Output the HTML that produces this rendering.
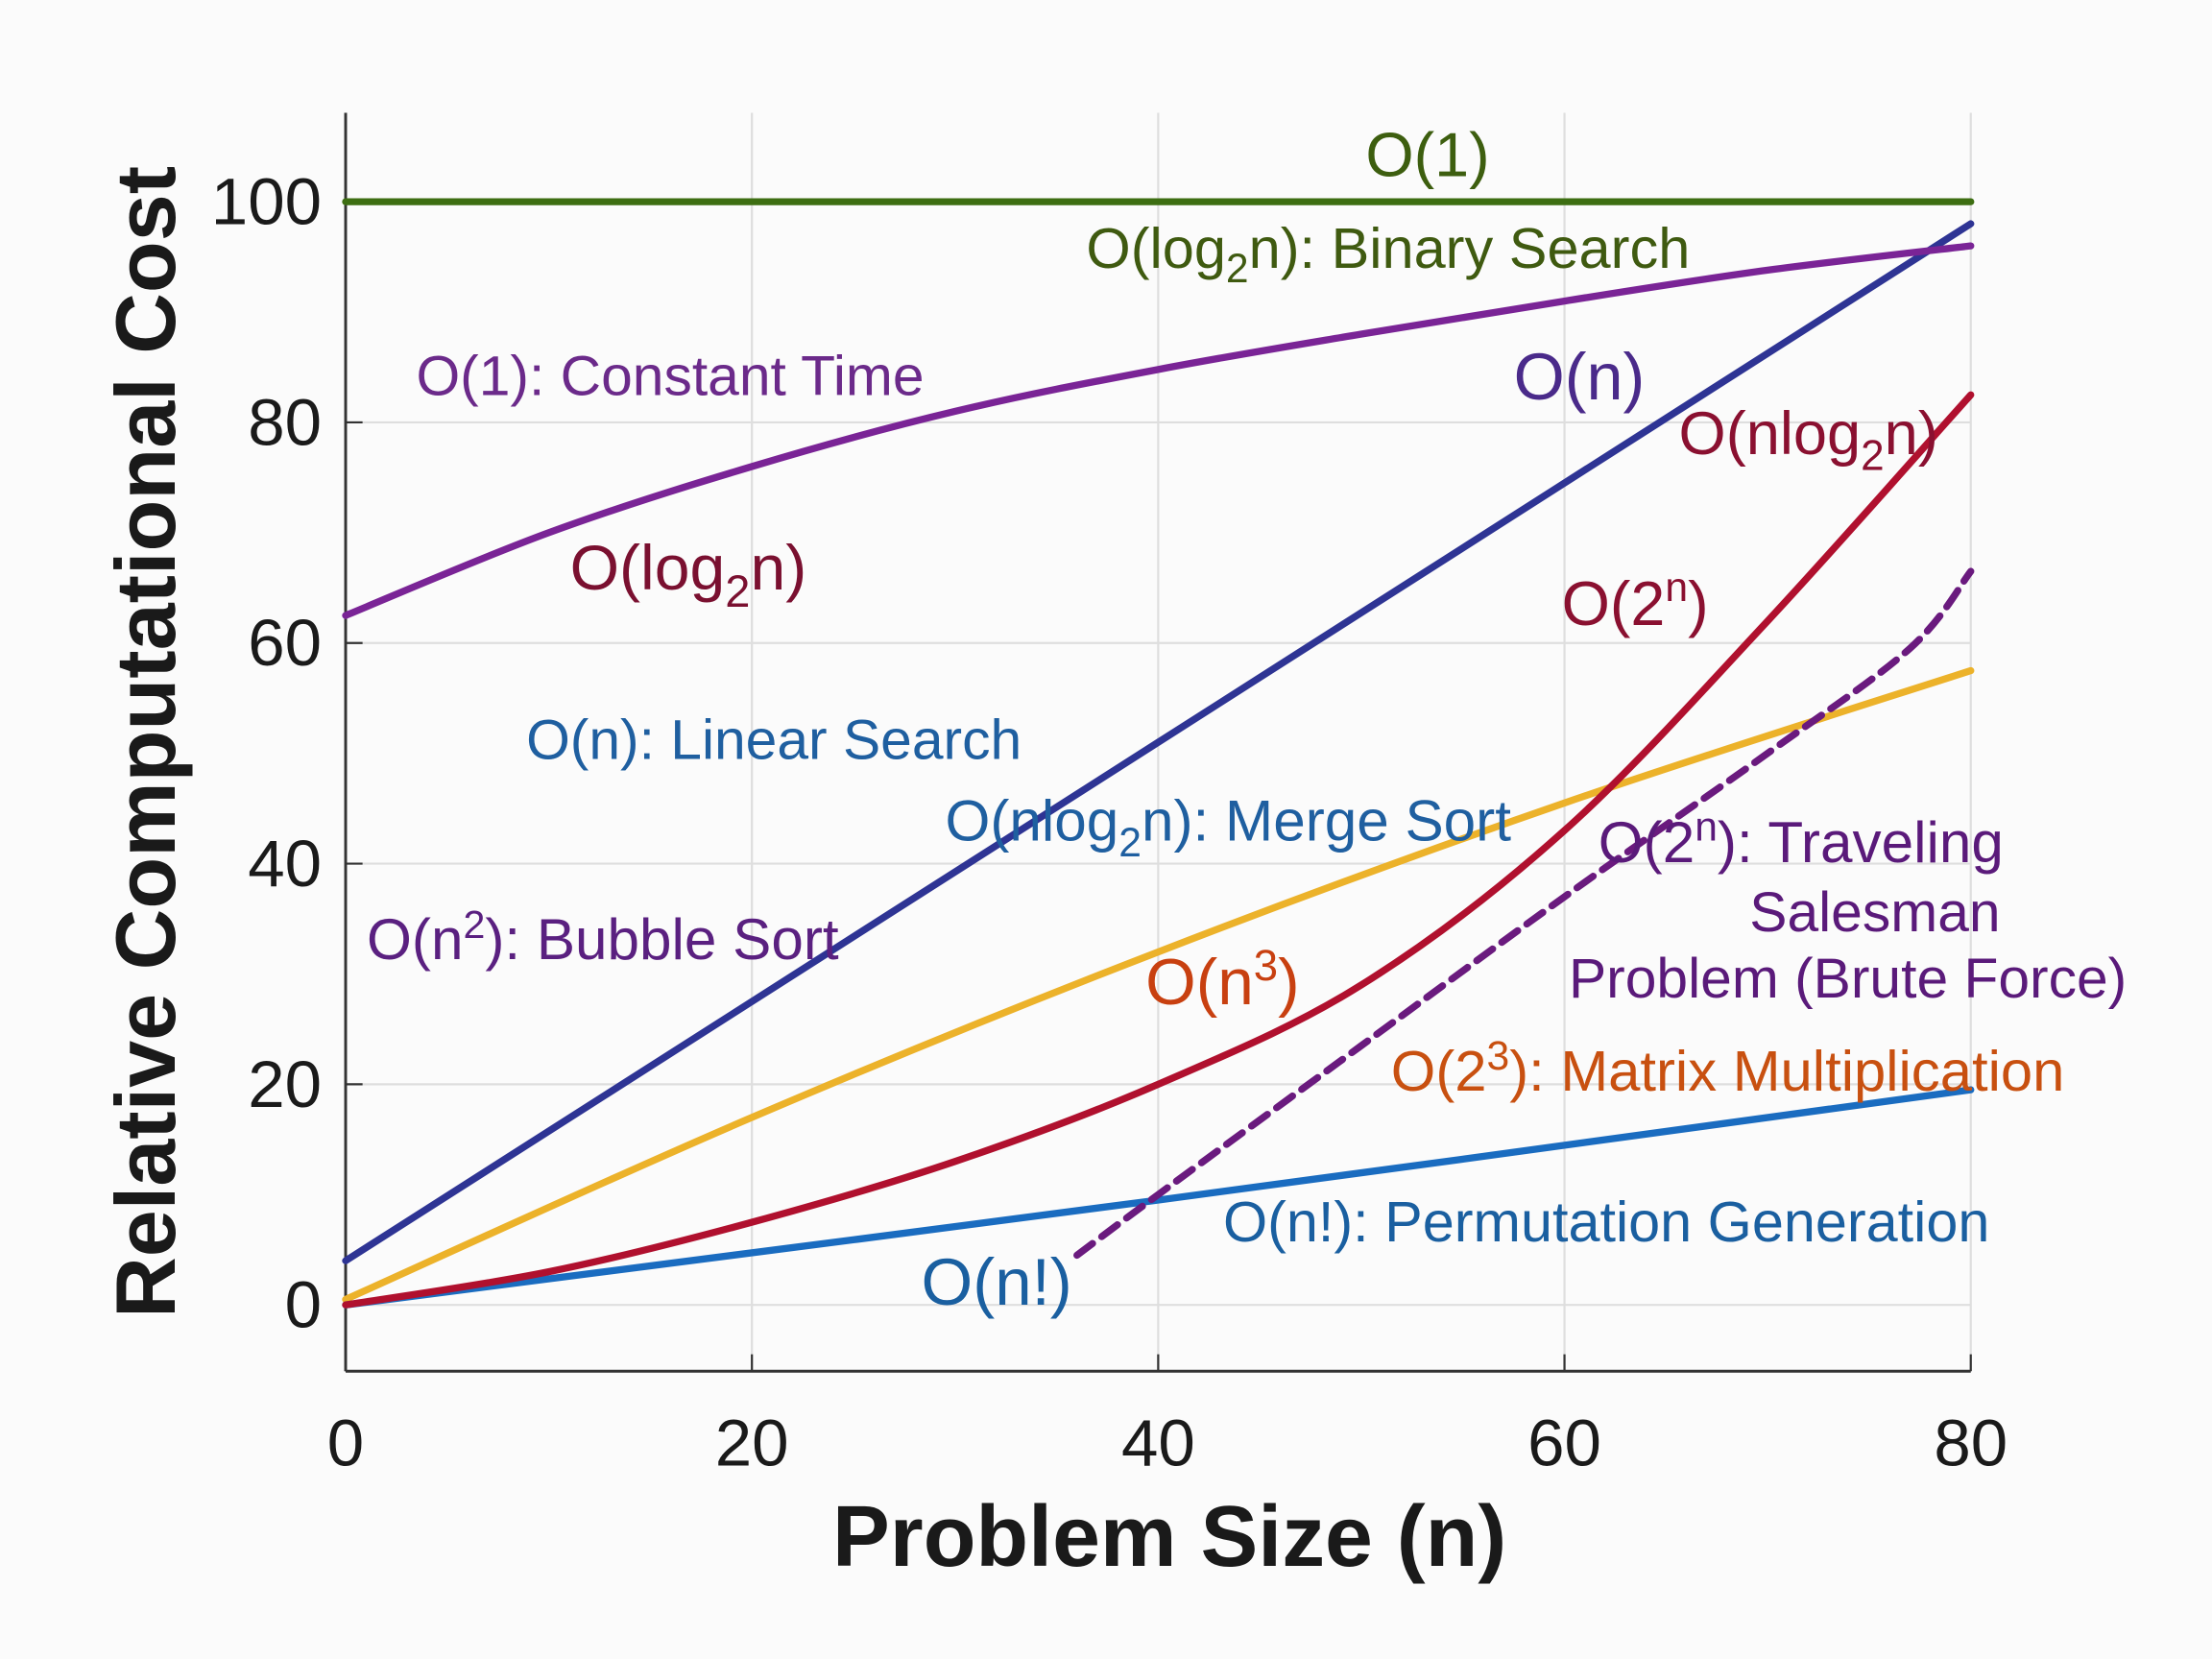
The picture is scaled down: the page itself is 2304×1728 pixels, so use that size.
<!DOCTYPE html>
<html><head><meta charset="utf-8"><style>
html,body{margin:0;padding:0;background:#fbfbfb;}
svg{display:block;font-family:"Liberation Sans",sans-serif;}
</style></head><body>
<svg id="chart" width="2304" height="1728" viewBox="0 0 1568 1176" xmlns="http://www.w3.org/2000/svg">
<rect x="0" y="0" width="1568" height="1176" fill="#fbfbfb"/>
<g id="grid"></g>
<g id="axes"></g>
<g id="series"></g>
<g id="labels">
<text x="1012" y="125" font-size="44" fill="#3d5e0f" text-anchor="middle">O(1)</text>
<text x="770" y="190" font-size="40.5" fill="#3f5a10">O(log<tspan font-size="29" dy="10">2</tspan><tspan dy="-10">n): Binary Search</tspan></text>
<text x="295" y="280" font-size="40" fill="#6b2a8a">O(1): Constant Time</text>
<text x="1073" y="283" font-size="46.5" fill="#4a2a8a">O(n)</text>
<text x="1190" y="322" font-size="43" fill="#8a1030">O(nlog<tspan font-size="30" dy="11">2</tspan><tspan dy="-11">n)</tspan></text>
<text x="404" y="418" font-size="45" fill="#7a1030">O(log<tspan font-size="32" dy="12">2</tspan><tspan dy="-12">n)</tspan></text>
<text x="1107" y="443" font-size="44" fill="#8a1030">O(2<tspan font-size="29" dy="-17">n</tspan><tspan dy="17">)</tspan></text>
<text x="373" y="538" font-size="40" fill="#1f5fa0">O(n): Linear Search</text>
<text x="670" y="596" font-size="41" fill="#1f5fa0">O(nlog<tspan font-size="29" dy="11">2</tspan><tspan dy="-11">n): Merge Sort</tspan></text>
<text x="1133" y="611" font-size="41" fill="#5a1a7a">O(2<tspan font-size="29" dy="-15">n</tspan><tspan dy="15">): Traveling</tspan></text>
<text x="1418" y="660" font-size="40" fill="#5a1a7a" text-anchor="end">Salesman</text>
<text x="1112" y="707" font-size="40" fill="#5a1a7a">Problem (Brute Force)</text>
<text x="260" y="680" font-size="41" fill="#5a2080">O(n<tspan font-size="28" dy="-15">2</tspan><tspan dy="15">): Bubble Sort</tspan></text>
<text x="812" y="712" font-size="46" fill="#c84010">O(n<tspan font-size="31" dy="-17">3</tspan><tspan dy="17">)</tspan></text>
<text x="986" y="773" font-size="40.7" fill="#c85010">O(2<tspan font-size="29" dy="-15">3</tspan><tspan dy="15">): Matrix Multiplication</tspan></text>
<text x="867" y="880" font-size="40.4" fill="#1a5fa0">O(n!): Permutation Generation</text>
<text x="653" y="925" font-size="47" fill="#1a5fa0">O(n!)</text>
</g>
<text x="829" y="1110" font-size="61" font-weight="bold" fill="#1a1a1a" text-anchor="middle">Problem Size (n)</text>
<text transform="translate(124,526) rotate(-90)" font-size="60" font-weight="bold" fill="#1a1a1a" text-anchor="middle">Relative Computational Cost</text>
</svg>
<script>
const xTicks=[0,20,40,60,80];
const yTicks=[0,20,40,60,80,100];
const constX=[0,80];const constY=[100,100];
const logX=[0,10,20,30,40,50,60,70,80];const logY=[62.5,70,76,81,84.8,88,91,93.8,96];
const linX=[0,80];const linY=[4,98];
const expX=[0,10,20,30,40,50,60,70,80];const expY=[0,3,7.5,13,20,29,43,62,82.5];
const nlognX=[0,20,40,60,80];const nlognY=[0.5,17,32,45.5,57.5];
const factX=[0,40,80];const factY=[0,9.5,19.5];
const tspX=[36,40,50,60,70,77,80];const tspY=[4.5,10,23.5,37,50,59.5,66.5];
const NS="http://www.w3.org/2000/svg";
const sx=v=>245+v*(1397-245)/80;
const sy=v=>925-v*(925-143)/100;
function mk(tag,attrs,parent){const e=document.createElementNS(NS,tag);for(const k in attrs)e.setAttribute(k,attrs[k]);parent.appendChild(e);return e;}
const grid=document.getElementById('grid'),axes=document.getElementById('axes'),series=document.getElementById('series');
xTicks.forEach(t=>{if(t>0){const l=mk('line',{x1:sx(t),x2:sx(t),y1:80,y2:972,stroke:'#dedede','stroke-width':1.5},grid);

}
const tk=mk('line',{x1:sx(t),x2:sx(t),y1:972,y2:960,stroke:'#333','stroke-width':1.5},axes);


const tx=mk('text',{x:sx(t),y:1039,'font-size':47,fill:'#1a1a1a','text-anchor':'middle'},axes);tx.textContent=t;

});
yTicks.forEach(t=>{const l=mk('line',{x1:245,x2:1397,y1:sy(t),y2:sy(t),stroke:'#dedede','stroke-width':1.5},grid);


const tk=mk('line',{x1:245,x2:257,y1:sy(t),y2:sy(t),stroke:'#333','stroke-width':1.5},axes);


const tx=mk('text',{x:228,y:sy(t)+16,'font-size':47,fill:'#1a1a1a','text-anchor':'end'},axes);tx.textContent=t;

});
const ax1=mk('line',{x1:245,x2:245,y1:80,y2:972,stroke:'#333','stroke-width':2},axes);


const ax2=mk('line',{x1:245,x2:1397,y1:972,y2:972,stroke:'#333','stroke-width':2},axes);


function smooth(xs,ys){const P=xs.map((x,i)=>[sx(x),sy(ys[i])]);let d='M'+P[0][0].toFixed(1)+','+P[0][1].toFixed(1);
for(let i=0;i<P.length-1;i++){const p0=P[Math.max(0,i-1)],p1=P[i],p2=P[i+1],p3=P[Math.min(P.length-1,i+2)];
const c1=[p1[0]+(p2[0]-p0[0])/6,p1[1]+(p2[1]-p0[1])/6],c2=[p2[0]-(p3[0]-p1[0])/6,p2[1]-(p3[1]-p1[1])/6];
d+=' C'+c1[0].toFixed(1)+','+c1[1].toFixed(1)+' '+c2[0].toFixed(1)+','+c2[1].toFixed(1)+' '+p2[0].toFixed(1)+','+p2[1].toFixed(1);}
return d;}
function line(xs,ys,color,name,dash){
const p=mk('path',{d:smooth(xs,ys),fill:'none',stroke:color,'stroke-width':5,'stroke-linejoin':'round','stroke-linecap':'round'},series);
if(dash)p.setAttribute('stroke-dasharray','14 8');

}
line(constX,constY,'#3d6e12','line-constant');
line(nlognX,nlognY,'#ecb22a','line-nlogn');
line(factX,factY,'#1a6cc0','line-factorial');
line(expX,expY,'#b0102e','line-exponential');
line(linX,linY,'#2e3494','line-linear');
line(logX,logY,'#7a2496','line-log');
line(tspX,tspY,'#6a1a7e','line-tsp',true);
</script>
</body></html>
